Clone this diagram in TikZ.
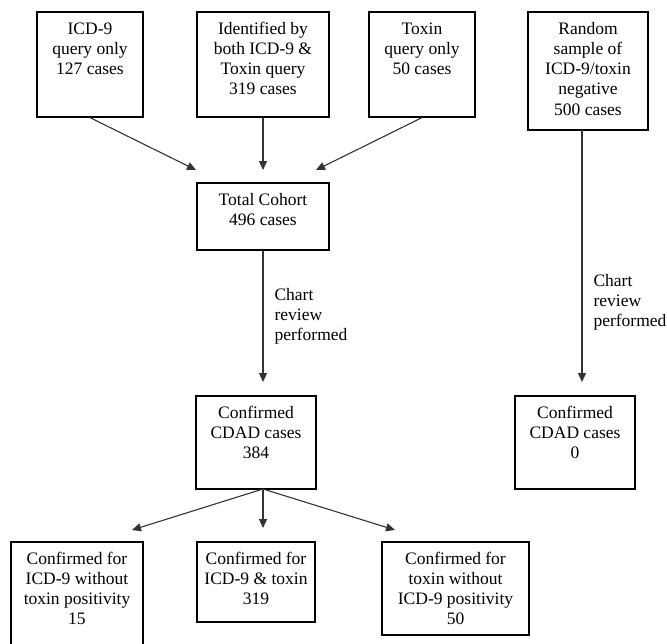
\documentclass[tikz,border=0pt]{standalone}
\usepackage{fontspec}
\setmainfont{Liberation Serif}
\usetikzlibrary{arrows.meta,positioning}

\newcommand{\boxtext}[3]{\parbox[c][#2pt][t]{#1pt}{\centering\rule{0pt}{22pt}#3}}

\begin{document}
\begin{tikzpicture}[x=1pt,y=-1pt,
	box/.style={draw=black, line width=1.2pt, inner sep=0pt, font=\fontsize{17.5}{20.3}\selectfont},
	arr/.style={draw=black!80, line width=1.1pt, -{Triangle[length=9pt,width=8pt]}},
	note/.style={inner sep=0pt, align=left, anchor=west, font=\fontsize{17.5}{20.3}\selectfont}]
	\useasboundingbox (0,0) rectangle (667,643);
	% Queries:
	\node[box] (icd) at (90,64.5) {\boxtext{106}{105}{ICD-9\\query only\\127 cases}};
	\node[box] (both) at (263,64.5) {\boxtext{132}{105}{Identified by\\both ICD-9 \&\\Toxin query\\319 cases}};
	\node[box] (toxin) at (422,64.5) {\boxtext{106}{105}{Toxin\\query only\\50 cases}};
	\node[box] (random) at (588,71) {\boxtext{120}{118}{Random\\sample of\\ICD-9/toxin\\negative\\500 cases}};
	% Cohort and confirmed cases:
	\node[box] (total) at (263,216.5) {\boxtext{132}{67}{Total Cohort\\496 cases}};
	\node[box] (cdad) at (256,442.5) {\boxtext{120}{93}{Confirmed\\CDAD cases\\384}};
	\node[box] (cdadneg) at (575,442.5) {\boxtext{120}{93}{Confirmed\\CDAD cases\\0}};
	% Breakdown:
	\node[box] (onlyicd) at (77,597) {\boxtext{132}{110}{Confirmed for\\ICD-9 without\\toxin positivity\\15}};
	\node[box] (icdtox) at (256,582) {\boxtext{118}{80}{Confirmed for\\ICD-9 \& toxin\\319}};
	\node[box] (onlytox) at (455.5,588.5) {\boxtext{147}{93}{Confirmed for\\toxin without\\ICD-9 positivity\\50}};
	% Arrow ends:
	\coordinate (tipicd) at (196,170);
	\coordinate (tipboth) at (263,170);
	\coordinate (tiptox) at (316,170);
	\coordinate (tipcdad) at (263,382);
	\coordinate (negout) at (582,130);
	\coordinate (tipneg) at (582,382);
	\coordinate (split) at (263,489);
	\coordinate (tiponlyicd) at (132,530);
	\coordinate (tipicdtox) at (263,528);
	\coordinate (tiponlytox) at (395,530);
	% Connectors:
	\draw[arr] (icd.south) -- (tipicd);
	\draw[arr] (both.south) -- (tipboth);
	\draw[arr] (toxin.south) -- (tiptox);
	\draw[arr] (total) -- node[note, pos=0.5, xshift=11pt] (review) {Chart\\review\\performed} (tipcdad);
	\draw[arr] (negout) -- node[note, pos=0.683, xshift=11pt] (reviewneg) {Chart\\review\\performed} (tipneg);
	\draw[arr] (split) -- (tiponlyicd);
	\draw[arr] (split) -- (tipicdtox);
	\draw[arr] (split) -- (tiponlytox);
\end{tikzpicture}
\end{document}
